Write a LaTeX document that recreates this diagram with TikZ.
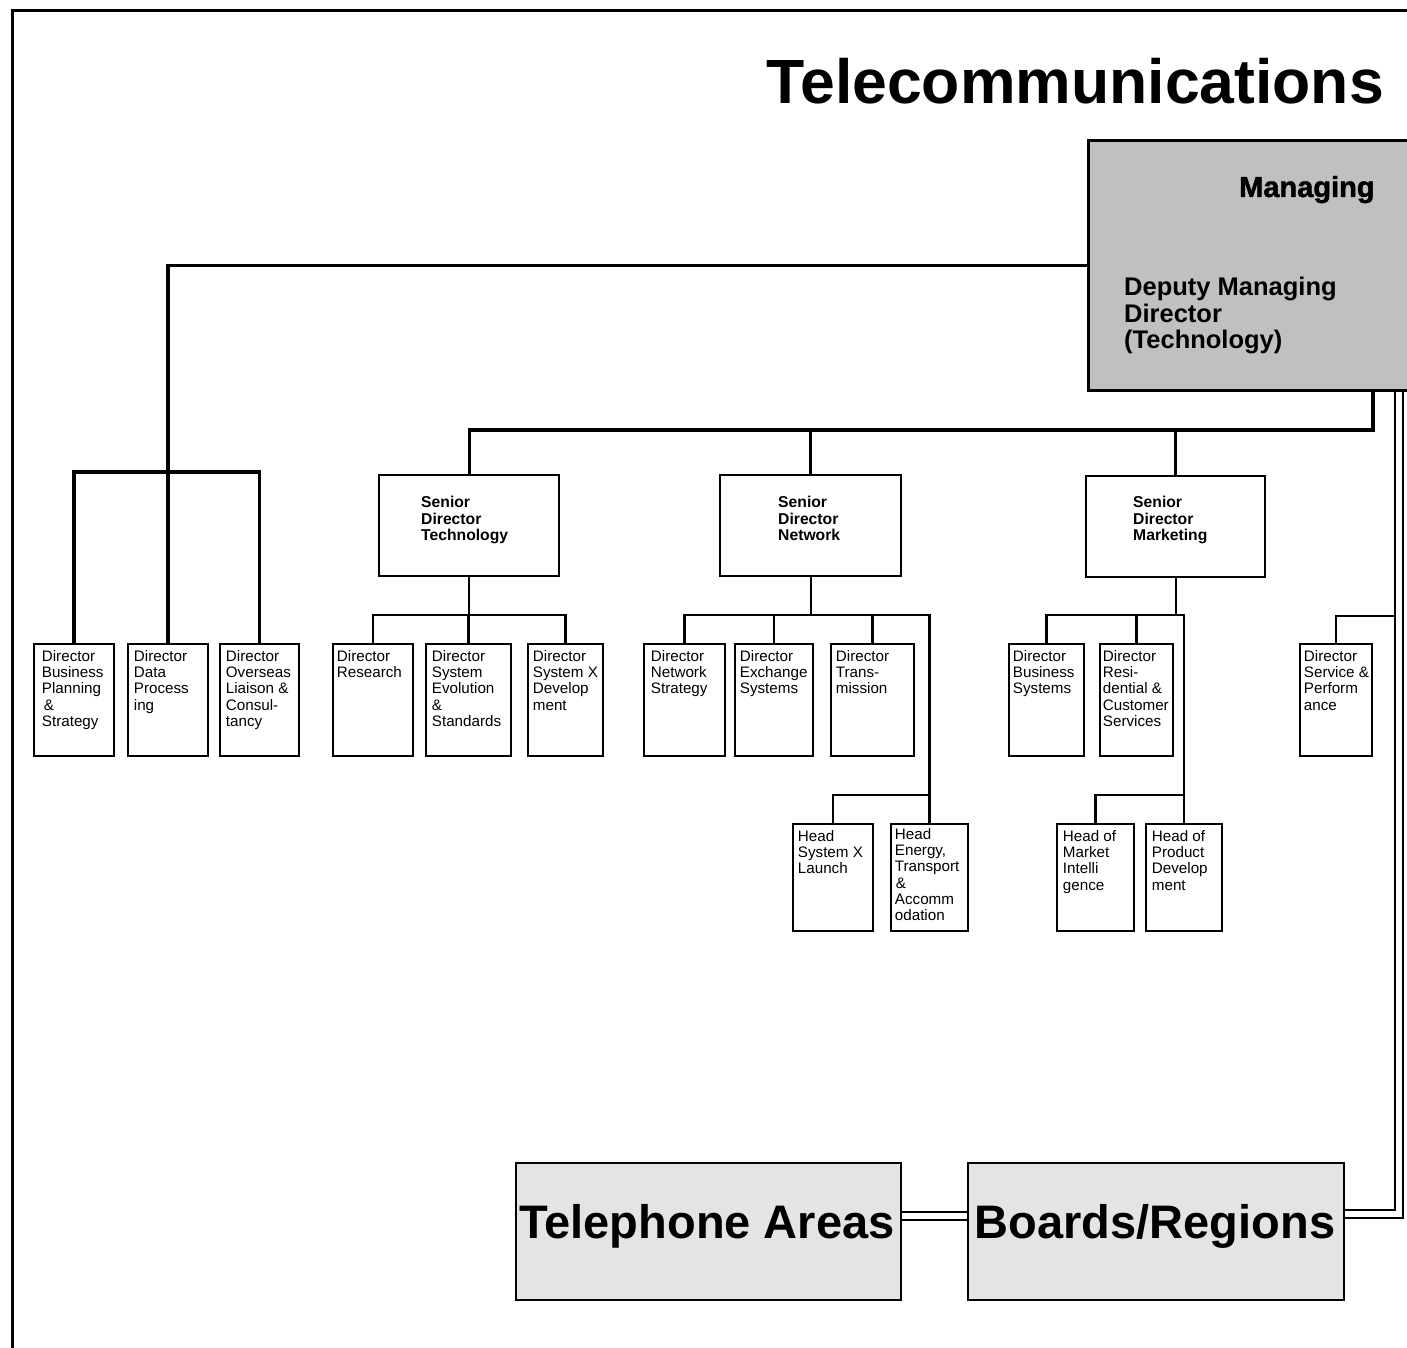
\documentclass[tikz,border=0pt]{standalone}
\usepackage{fontspec}
\setmainfont{Liberation Sans}
\newfontfamily\heavyfont[FakeBold=1.6]{Liberation Sans Bold}
\definecolor{mgrgray}{RGB}{192,192,192}
\definecolor{areagray}{RGB}{228,228,228}
% fixed-size text cell: [indent] width, height (in pt), lines set flush left from the top
\newcommand\cell[4][0pt]{\parbox[c][\dimexpr#3pt-12pt\relax][t]{\dimexpr#2pt-10pt\relax}{%
  \noindent\hspace*{#1}\begin{tabular}[t]{@{}l@{}}#4\end{tabular}}}
\begin{document}
\begin{tikzpicture}[x=1pt,y=-1pt,
  frame/.style={line width=3pt},
  bus/.style={line width=3.4pt},
  link/.style={line width=2.2pt},
  dbox/.style={draw, line width=1.8pt, anchor=north west, inner xsep=5pt, inner ysep=6pt,
    font=\fontsize{15.2}{16.3}\selectfont},
  sbox/.style={draw, line width=2.4pt, anchor=north west, minimum height=101pt, inner sep=0pt},
  stext/.style={anchor=north west, inner sep=0pt, align=left,
    font=\fontsize{15.7}{16.5}\selectfont\bfseries},
  areabox/.style={draw, line width=2.2pt, fill=areagray, anchor=north west,
    minimum width=385pt, minimum height=137pt, inner sep=0pt},
  areatext/.style={anchor=base, inner sep=0pt, font=\fontsize{47}{47}\selectfont\bfseries},
]
\useasboundingbox (0,0) rectangle (1407,1348);
\fill[white] (0,0) rectangle (1407,1348);
\clip (0,0) rectangle (1407,1348);

% page frame
\draw[frame] (12,1352) -- (12,11) -- (1412,11);

% title
\node[anchor=base east, inner sep=0pt, font=\fontsize{62.5}{62.5}\selectfont\bfseries]
  (title) at (1384,104) {Telecommunications};

% top office
\node[draw, line width=3.2pt, fill=mgrgray, anchor=north west, minimum width=340pt,
  minimum height=250pt, inner sep=0pt] (mdbox) at (1087,139) {};
\node[anchor=base west, inner sep=0pt, font=\fontsize{29}{29}\heavyfont]
  (mdname) at (1239,197) {Managing};
\node[anchor=north west, inner sep=0pt, align=left, font=\fontsize{25.5}{26.5}\selectfont\bfseries]
  (dmd) at (1124,277) {Deputy Managing\\Director\\(Technology)};

% senior directors
\node[sbox, minimum width=180pt] (sdt) at (378,474) {};
\node[stext] (sdtt) at (421,496) {Senior\\Director\\Technology};
\node[sbox, minimum width=181pt] (sdn) at (719,474) {};
\node[stext] (sdnt) at (778,496) {Senior\\Director\\Network};
\node[sbox, minimum width=179pt] (sdm) at (1085,475) {};
\node[stext] (sdmt) at (1133,496) {Senior\\Director\\Marketing};

% directors reporting directly
\node[dbox] (dbp) at (33,643) {\cell[3pt]{80}{112}{Director\\Business\\Planning\\\hspace{2pt}\&\\Strategy}};
\node[dbox] (ddp) at (127,643) {\cell[1pt]{80}{112}{Director\\Data\\Process\\ing}};
\node[dbox] (dov) at (219,643) {\cell[1pt]{79}{112}{Director\\Overseas\\Liaison \&\\Consul-\\tancy}};

% technology directorates
\node[dbox] (dres) at (332,643) {\cell[-1pt]{80}{112}{Director\\Research}};
\node[dbox] (dsev) at (425,643) {\cell[1pt]{85}{112}{Director\\System\\Evolution\\\&\\Standards}};
\node[dbox] (dsx) at (527,643) {\cell{75}{112}{Director\\System X\\Develop\\ment}};

% network directorates
\node[dbox] (dns) at (643,643) {\cell[2pt]{81}{112}{Director\\Network\\Strategy}};
\node[dbox] (dex) at (734,643) {\cell{78}{112}{Director\\Exchange\\Systems}};
\node[dbox] (dtr) at (830,643) {\cell{83}{112}{Director\\Trans-\\mission}};
\node[dbox] (hsx) at (792,823) {\cell{80}{107}{Head\\System X\\Launch}};
\node[dbox, inner ysep=4pt] (hen) at (890,823)
  {\cell[-1pt]{77}{111}{Head\\Energy,\\Transport\\\hspace{1pt}\&\\Accomm\\odation}};

% marketing directorates
\node[dbox] (dbs) at (1008,643) {\cell[-1pt]{75}{112}{Director\\Business\\Systems}};
\node[dbox] (drc) at (1099,643) {\cell[-2pt]{73}{112}{Director\\Resi-\\dential \&\\Customer\\Services}};
\node[dbox] (hmi) at (1056,823) {\cell[1pt]{77}{107}{Head of\\Market\\Intelli\\gence}};
\node[dbox] (hpd) at (1145,823) {\cell[1pt]{76}{107}{Head of\\Product\\Develop\\ment}};

% service directorate
\node[dbox] (dsp) at (1299,643) {\cell[-1pt]{72}{112}{Director\\Service \&\\Perform\\ance}};

% field organisation
\node[areabox] (tel) at (515,1162) {};
\node[areatext] (telt) at (707,1238) {Telephone Areas};
\node[areabox, minimum width=376pt] (boards) at (967,1162) {};
\node[areatext] (boardst) at (1155,1238) {Boards/Regions};

% connectors: directors reporting directly
\coordinate (lb) at (167,472);
\draw[bus] (mdbox.west) -| (ddp.north);
\draw[bus] (dbp.north) -- (dbp.north |- lb) -- (dov.north |- lb) -- (dov.north);

% connectors: senior directors
\coordinate (sb) at (1373,430);
\draw[bus] (mdbox.south -| sb) -- (sb) -- (sdt.north |- sb) -- (sdt.north);
\draw[bus] (sdn.north |- sb) -- (sdn.north);
\draw[bus] (sdm.north |- sb) -- (sdm.north);

% connectors: technology
\coordinate (tb) at (467,615);
\draw[link] (sdt.south) -- (sdt.south |- tb);
\draw[link] (dres.north) -- (dres.north |- tb) -- (dsx.north |- tb) -- (dsx.north);
\draw[link] (dsev.north) -- (dsev.north |- tb);

% connectors: network
\coordinate (nb) at (813,615);
\coordinate (hb) at (928,795);
\draw[link] (sdn.south) -- (sdn.south |- nb);
\draw[link] (dns.north) -- (dns.north |- nb) -- (hen.north |- nb) -- (hen.north);
\draw[link] (dex.north) -- (dex.north |- nb);
\draw[link] (dtr.north) -- (dtr.north |- nb);
\draw[link] (hsx.north) -- (hsx.north |- hb) -- (hen.north |- hb);

% connectors: marketing
\coordinate (mb) at (1170,615);
\coordinate (mhb) at (1186,795);
\draw[link] (sdm.south) -- (sdm.south |- mb);
\draw[link] (dbs.north) -- (dbs.north |- mb) -- (hpd.north |- mb) -- (hpd.north);
\draw[link] (drc.north) -- (drc.north |- mb);
\draw[link] (hmi.north) -- (hmi.north |- mhb) -- (hpd.north |- mhb);

% double line down to the field organisation
\coordinate (rin) at (1395,616);
\draw[link] (dsp.north) |- (rin);
\draw[link] (mdbox.south -| 1395,0) -- (1395,1210) -- (boards.east |- 0,1210);
\draw[link] (mdbox.south -| 1403,0) -- (1403,1218) -- (boards.east |- 0,1218);
\draw[link] (tel.east |- 0,1212) -- (boards.west |- 0,1212);
\draw[link] (tel.east |- 0,1220) -- (boards.west |- 0,1220);
\end{tikzpicture}
\end{document}
